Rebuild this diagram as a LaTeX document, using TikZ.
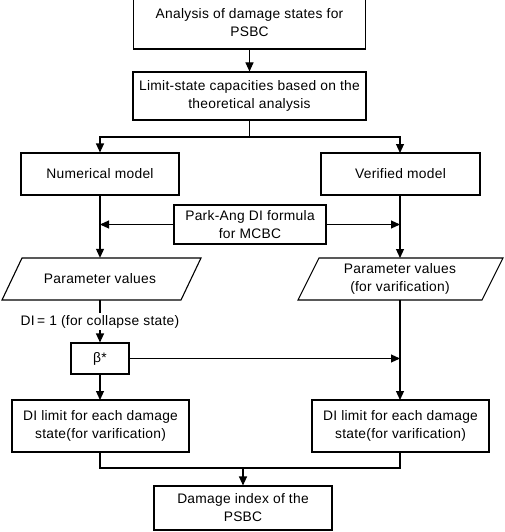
\documentclass[tikz,border=0pt]{standalone}
\usepackage{fontspec}
\setmainfont{Liberation Sans}[LetterSpace=2]
\usetikzlibrary{arrows.meta}
\begin{document}
\begin{tikzpicture}[x=1pt,y=-1pt,
  every node/.style={font=\fontsize{13.8}{18}\selectfont, inner sep=0pt, align=center},
  box/.style={draw, line width=1.1pt, rectangle},
  plain/.style={draw=none},
  conn/.style={line width=1.1pt},
  arr/.style={line width=1.1pt, -{Triangle[length=9pt,width=8pt]}}]
\useasboundingbox (0,0) rectangle (504,532);

\node[box, minimum width=232, minimum height=53] (a) at (249.5,22.5) {Analysis of damage states for\\PSBC};
\node[box, minimum width=233, minimum height=48] (b) at (249.5,96) {Limit-state capacities based on the\\theoretical analysis};
\node[box, minimum width=158, minimum height=42] (num) at (100,174) {Numerical model};
\node[box, minimum width=159, minimum height=42] (ver) at (400.5,174) {Verified model};
\node[box, minimum width=152, minimum height=39] (park) at (250,224.5) {Park-Ang DI formula\\for MCBC};

\node[plain, minimum width=160, minimum height=42] (pl) at (100,279) {Parameter values};
\node[plain, minimum width=160, minimum height=42] (pr) at (400,279) {Parameter values\\(for varification)};
\draw[conn] (2,300) -- (22,258) -- (201,258) -- (181,300) -- cycle;
\draw[conn] (298,300) -- (319,258) -- (503,258) -- (482,300) -- cycle;

\node[plain] (lab) at (100,322) {DI\,= 1 (for collapse state)};
\node[box, minimum width=58, minimum height=31] (beta) at (100,358.5) {β*};

\node[box, minimum width=177, minimum height=52] (dl) at (100.5,426) {DI limit for each damage\\state(for varification)};
\node[box, minimum width=177, minimum height=52] (dr) at (400.5,426) {DI limit for each damage\\state(for varification)};
\node[box, minimum width=178, minimum height=44] (dam) at (243,508) {Damage index of the\\PSBC};

\coordinate (split) at (249.5,137);
\coordinate (join) at (243,468);

\draw[arr] (a.south) -- (b.north);
\draw[conn] (b.south) -- (split);
\draw[arr] (split) -- (100,137) -- (num.north);
\draw[arr] (split) -- (400,137) -- (400,153);
\draw[arr] (num.south) -- (pl.north);
\draw[arr] (400,195) -- (400,258);
\draw[arr] (park.west) -- (100,224.5);
\draw[arr] (park.east) -- (400,224.5);
\draw[conn] (pl.south) -- (100,313);
\draw[arr] (100,330) -- (beta.north);
\draw[arr] (beta.east) -- (400,358.5);
\draw[arr] (400,300) -- (400,400);
\draw[arr] (beta.south) -- (100,400);
\draw[conn] (100,452) -- (100,468) -- (400,468) -- (400,452);
\draw[arr] (join) -- (dam.north);
\end{tikzpicture}
\end{document}
